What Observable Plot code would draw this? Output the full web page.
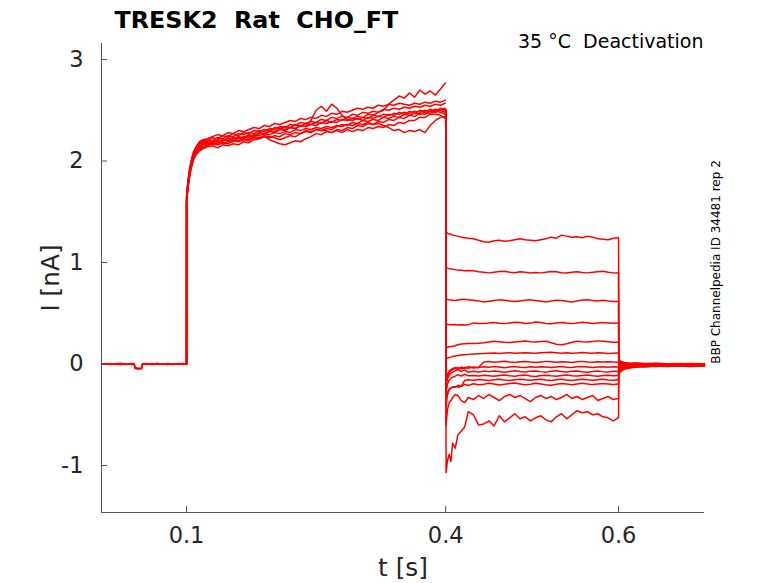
<!DOCTYPE html>
<html><head><meta charset="utf-8">
<script src="https://cdn.jsdelivr.net/npm/d3@7"></script>
<script src="https://cdn.jsdelivr.net/npm/@observablehq/plot@0.6"></script>
<style>body{margin:0;background:#fff;} svg text{white-space:pre;}</style>
</head><body><div id="chart"></div><script>
// ---- texts ----
const titleText = "TRESK2  Rat  CHO_FT";
const condText = "35 °C  Deactivation";
const idText = "BBP Channelpedia ID 34481 rep 2";
const xLabel = "t [s]";
const yLabel = "I [nA]";
// ---- axes ----
const xDomain = [0.0016, 0.6995];
const yDomain = [-1.463, 3.158];
const xTicks = [0.1, 0.4, 0.6];
const yTicks = [-1, 0, 1, 2, 3];

// ---- holding baseline (0 - 0.1 s) ----
const tBase = [0.0016, 0.006, 0.012, 0.018, 0.024, 0.030, 0.036, 0.0395, 0.0405, 0.044, 0.048, 0.049, 0.054, 0.060, 0.066, 0.072, 0.078, 0.084, 0.090, 0.096, 0.1];
const base1 = [0.005, -0.003, 0.004, -0.002, 0.003, -0.004, 0.002, 0.000, -0.045, -0.05, -0.046, 0.002, -0.003, 0.004, -0.002, 0.003, -0.004, 0.003, -0.002, 0.004, 0.0];
const base2 = [-0.006, 0.002, -0.005, 0.004, -0.004, 0.003, -0.006, -0.003, -0.04, -0.047, -0.042, -0.004, 0.003, -0.005, 0.004, -0.003, 0.002, -0.006, 0.003, -0.004, 0.0];
const base3 = [0.002, 0.006, -0.002, 0.003, 0.007, -0.001, 0.005, 0.002, -0.035, -0.042, -0.038, 0.003, 0.006, 0.0, 0.006, -0.001, 0.005, 0.001, 0.006, 0.002, 0.0];

// ---- activation step (0.1 - 0.4 s) ----
const tA = [0.1, 0.1001, 0.1006, 0.1013, 0.1022, 0.1035, 0.1055, 0.108, 0.111, 0.115, 0.119,
  0.124, 0.130, 0.136, 0.142, 0.148, 0.154, 0.160, 0.166, 0.172, 0.178, 0.184, 0.190, 0.196, 0.202, 0.208, 0.214,
  0.220, 0.226, 0.232, 0.238, 0.244, 0.250, 0.256, 0.262, 0.268, 0.274, 0.280, 0.286, 0.292, 0.298, 0.304, 0.310,
  0.316, 0.322, 0.328, 0.334, 0.340, 0.346, 0.352, 0.358, 0.364, 0.370, 0.376, 0.382, 0.388, 0.394, 0.3995];
const A1 = [0, 1.64, 1.70, 1.75, 1.82, 1.90, 1.99, 2.07, 2.12, 2.17, 2.19,
  2.20, 2.23, 2.22, 2.25, 2.24, 2.27, 2.25, 2.28, 2.27, 2.30, 2.29, 2.31, 2.30, 2.33, 2.32, 2.34,
  2.33, 2.36, 2.34, 2.37, 2.36, 2.38, 2.37, 2.40, 2.38, 2.41, 2.40, 2.43, 2.42, 2.44, 2.43, 2.46,
  2.45, 2.48, 2.50, 2.56, 2.60, 2.64, 2.62, 2.67, 2.63, 2.70, 2.66, 2.69, 2.65, 2.71, 2.77];
const A2 = [0, 1.60, 1.66, 1.71, 1.78, 1.86, 1.95, 2.03, 2.08, 2.12, 2.14,
  2.16, 2.18, 2.17, 2.20, 2.21, 2.19, 2.23, 2.22, 2.25, 2.24, 2.27, 2.26, 2.29, 2.28, 2.31, 2.30,
  2.33, 2.32, 2.35, 2.34, 2.40, 2.50, 2.54, 2.49, 2.56, 2.52, 2.45, 2.41, 2.40, 2.42, 2.40, 2.43,
  2.42, 2.44, 2.43, 2.46, 2.45, 2.48, 2.46, 2.49, 2.47, 2.50, 2.48, 2.51, 2.49, 2.52, 2.50];
const A3 = [0, 1.62, 1.68, 1.73, 1.80, 1.88, 1.97, 2.05, 2.10, 2.14, 2.17,
  2.17, 2.20, 2.19, 2.21, 2.20, 2.23, 2.22, 2.24, 2.23, 2.26, 2.25, 2.27, 2.26, 2.28, 2.27, 2.29,
  2.28, 2.31, 2.30, 2.32, 2.31, 2.33, 2.32, 2.34, 2.33, 2.35, 2.34, 2.36, 2.35, 2.37, 2.36, 2.38,
  2.36, 2.37, 2.35, 2.33, 2.30, 2.31, 2.28, 2.30, 2.29, 2.31, 2.28, 2.35, 2.40, 2.43, 2.44];
const A4 = [0, 1.58, 1.64, 1.69, 1.76, 1.84, 1.93, 2.01, 2.06, 2.10, 2.12,
  2.14, 2.15, 2.13, 2.16, 2.15, 2.17, 2.16, 2.19, 2.18, 2.21, 2.22, 2.24, 2.21, 2.19, 2.17, 2.16,
  2.18, 2.20, 2.19, 2.22, 2.24, 2.27, 2.26, 2.29, 2.28, 2.31, 2.30, 2.33, 2.32, 2.35, 2.34, 2.37,
  2.36, 2.39, 2.38, 2.41, 2.40, 2.43, 2.42, 2.45, 2.44, 2.47, 2.46, 2.49, 2.48, 2.50, 2.48];
const A5 = [0, 1.66, 1.72, 1.77, 1.84, 1.92, 2.01, 2.09, 2.14, 2.19, 2.21,
  2.22, 2.24, 2.26, 2.25, 2.28, 2.27, 2.30, 2.29, 2.31, 2.33, 2.32, 2.35, 2.34, 2.37, 2.36, 2.38,
  2.40, 2.39, 2.42, 2.41, 2.43, 2.42, 2.45, 2.44, 2.47, 2.46, 2.49, 2.48, 2.50, 2.52, 2.51, 2.53,
  2.52, 2.55, 2.54, 2.56, 2.55, 2.57, 2.56, 2.55, 2.57, 2.56, 2.58, 2.57, 2.59, 2.58, 2.60];
const A6 = [0, 1.63, 1.69, 1.74, 1.81, 1.89, 1.98, 2.06, 2.11, 2.15, 2.18,
  2.19, 2.18, 2.21, 2.20, 2.23, 2.22, 2.24, 2.23, 2.26, 2.25, 2.28, 2.27, 2.30, 2.29, 2.32, 2.31,
  2.33, 2.32, 2.35, 2.34, 2.36, 2.35, 2.38, 2.37, 2.39, 2.38, 2.41, 2.40, 2.42, 2.41, 2.43, 2.42,
  2.45, 2.44, 2.46, 2.45, 2.47, 2.46, 2.48, 2.47, 2.49, 2.48, 2.50, 2.49, 2.51, 2.50, 2.52];
const A7 = [0, 1.59, 1.65, 1.70, 1.77, 1.85, 1.94, 2.02, 2.07, 2.11, 2.13,
  2.15, 2.17, 2.16, 2.18, 2.17, 2.20, 2.19, 2.21, 2.20, 2.23, 2.22, 2.24, 2.23, 2.25, 2.24, 2.27,
  2.26, 2.28, 2.27, 2.30, 2.29, 2.31, 2.30, 2.30, 2.28, 2.30, 2.28, 2.31, 2.29, 2.31, 2.30, 2.33,
  2.32, 2.34, 2.33, 2.36, 2.35, 2.38, 2.37, 2.40, 2.40, 2.43, 2.43, 2.46, 2.46, 2.45, 2.42];
const A8 = [0, 1.65, 1.71, 1.76, 1.83, 1.91, 2.00, 2.08, 2.13, 2.18, 2.20,
  2.21, 2.20, 2.23, 2.22, 2.25, 2.24, 2.27, 2.26, 2.28, 2.27, 2.30, 2.29, 2.32, 2.31, 2.34, 2.33,
  2.36, 2.35, 2.38, 2.37, 2.39, 2.38, 2.41, 2.40, 2.43, 2.42, 2.44, 2.43, 2.46, 2.45, 2.48, 2.47,
  2.49, 2.48, 2.51, 2.50, 2.52, 2.51, 2.53, 2.52, 2.54, 2.53, 2.55, 2.54, 2.56, 2.55, 2.57];
const A9 = [0, 1.61, 1.67, 1.72, 1.79, 1.87, 1.96, 2.04, 2.09, 2.13, 2.16,
  2.18, 2.16, 2.18, 2.17, 2.19, 2.21, 2.20, 2.22, 2.21, 2.24, 2.23, 2.25, 2.24, 2.23, 2.21, 2.23,
  2.25, 2.24, 2.27, 2.29, 2.28, 2.31, 2.30, 2.32, 2.31, 2.34, 2.36, 2.35, 2.38, 2.37, 2.40, 2.39,
  2.41, 2.40, 2.43, 2.42, 2.44, 2.43, 2.46, 2.45, 2.47, 2.46, 2.48, 2.47, 2.49, 2.48, 2.46];

// ---- deactivation test steps (0.4 - 0.6 s) ----
const tB = [0.4, 0.4004, 0.402, 0.404, 0.406, 0.408, 0.411, 0.414, 0.418, 0.422, 0.426,
  0.432, 0.438, 0.444, 0.450, 0.456, 0.462, 0.468, 0.474, 0.480, 0.486, 0.492, 0.498, 0.504, 0.510,
  0.516, 0.522, 0.528, 0.534, 0.540, 0.546, 0.552, 0.558, 0.564, 0.570, 0.576, 0.582, 0.588, 0.594, 0.5995];
const B1 = [2.5, 1.30, 1.29, 1.28, 1.28, 1.27, 1.265, 1.26, 1.25, 1.245, 1.24, 1.235, 1.22, 1.205, 1.20, 1.215, 1.22, 1.21, 1.215, 1.225, 1.235, 1.225, 1.22, 1.215, 1.225, 1.235, 1.25, 1.24, 1.27, 1.26, 1.25, 1.255, 1.245, 1.26, 1.25, 1.235, 1.23, 1.225, 1.24, 1.245];
const B2 = [2.5, 0.95, 0.945, 0.94, 0.935, 0.935, 0.93, 0.925, 0.925, 0.92, 0.922, 0.918, 0.91, 0.905, 0.898, 0.905, 0.912, 0.915, 0.905, 0.90, 0.908, 0.903, 0.897, 0.902, 0.898, 0.905, 0.912, 0.908, 0.90, 0.896, 0.905, 0.91, 0.902, 0.898, 0.903, 0.91, 0.915, 0.905, 0.898, 0.897];
const B3 = [2.5, 0.64, 0.637, 0.632, 0.63, 0.628, 0.626, 0.63, 0.635, 0.638, 0.632, 0.628, 0.622, 0.612, 0.618, 0.625, 0.632, 0.628, 0.62, 0.615, 0.622, 0.628, 0.632, 0.625, 0.618, 0.612, 0.62, 0.628, 0.625, 0.618, 0.612, 0.62, 0.63, 0.633, 0.625, 0.622, 0.628, 0.62, 0.615, 0.617];
const B4 = [2.5, 0.39, 0.392, 0.388, 0.39, 0.387, 0.39, 0.385, 0.388, 0.384, 0.386, 0.405, 0.40, 0.398, 0.403, 0.41, 0.402, 0.398, 0.405, 0.412, 0.408, 0.40, 0.403, 0.413, 0.408, 0.40, 0.396, 0.405, 0.41, 0.403, 0.398, 0.405, 0.412, 0.406, 0.40, 0.404, 0.41, 0.405, 0.401, 0.405];
const B5 = [2.5, 0.16, 0.165, 0.17, 0.172, 0.175, 0.18, 0.19, 0.198, 0.2, 0.202, 0.203, 0.205, 0.21, 0.218, 0.225, 0.22, 0.215, 0.212, 0.218, 0.222, 0.226, 0.22, 0.216, 0.222, 0.225, 0.21, 0.195, 0.19, 0.2, 0.215, 0.225, 0.22, 0.218, 0.223, 0.228, 0.225, 0.22, 0.215, 0.215];
const B6 = [2.5, 0.05, 0.058, 0.064, 0.068, 0.073, 0.078, 0.083, 0.088, 0.092, 0.095, 0.098, 0.10, 0.103, 0.106, 0.108, 0.104, 0.109, 0.111, 0.106, 0.109, 0.112, 0.108, 0.105, 0.11, 0.114, 0.116, 0.111, 0.107, 0.11, 0.106, 0.109, 0.113, 0.109, 0.105, 0.11, 0.108, 0.104, 0.107, 0.108];
const B7 = [2.5, -0.15, -0.10, -0.07, -0.055, -0.045, -0.035, -0.05, -0.03, -0.045, -0.025, -0.04, -0.035, 0.02, 0.025, 0.018, 0.022, 0.027, 0.02, 0.016, 0.022, 0.025, 0.019, 0.015, 0.021, 0.026, 0.022, 0.018, 0.023, 0.02, 0.016, 0.022, 0.026, 0.02, 0.017, 0.022, 0.019, 0.023, 0.02, 0.018];
const B8 = [2.5, -0.18, -0.12, -0.085, -0.065, -0.055, -0.045, -0.035, -0.05, -0.032, -0.042, -0.03, -0.035, -0.028, -0.033, -0.025, -0.03, -0.036, -0.029, -0.024, -0.031, -0.035, -0.028, -0.032, -0.026, -0.03, -0.035, -0.029, -0.025, -0.031, -0.034, -0.028, -0.024, -0.03, -0.035, -0.029, -0.026, -0.031, -0.028, -0.03];
const B9 = [2.5, -0.22, -0.15, -0.11, -0.09, -0.08, -0.068, -0.055, -0.072, -0.058, -0.08, -0.072, -0.078, -0.07, -0.075, -0.068, -0.074, -0.08, -0.073, -0.067, -0.074, -0.079, -0.072, -0.068, -0.075, -0.08, -0.071, -0.066, -0.073, -0.078, -0.072, -0.069, -0.076, -0.08, -0.073, -0.07, -0.075, -0.078, -0.072, -0.074];
const B10 = [2.5, -0.28, -0.20, -0.16, -0.14, -0.13, -0.12, -0.105, -0.118, -0.102, -0.115, -0.112, -0.118, -0.11, -0.116, -0.121, -0.113, -0.108, -0.115, -0.12, -0.112, -0.109, -0.117, -0.122, -0.114, -0.11, -0.116, -0.12, -0.113, -0.109, -0.115, -0.119, -0.112, -0.108, -0.115, -0.12, -0.114, -0.11, -0.116, -0.114];
const B11 = [2.5, -0.35, -0.28, -0.25, -0.235, -0.23, -0.22, -0.228, -0.22, -0.162, -0.155, -0.16, -0.152, -0.158, -0.163, -0.155, -0.15, -0.157, -0.162, -0.154, -0.149, -0.156, -0.161, -0.155, -0.15, -0.158, -0.163, -0.156, -0.151, -0.157, -0.162, -0.155, -0.15, -0.156, -0.16, -0.154, -0.151, -0.157, -0.16, -0.156];
const B12 = [2.5, -0.42, -0.30, -0.25, -0.24, -0.225, -0.23, -0.21, -0.22, -0.20, -0.212, -0.195, -0.205, -0.2, -0.19, -0.198, -0.207, -0.2, -0.193, -0.188, -0.197, -0.205, -0.199, -0.19, -0.196, -0.204, -0.21, -0.2, -0.193, -0.198, -0.205, -0.197, -0.19, -0.196, -0.203, -0.198, -0.192, -0.197, -0.202, -0.196];
const B13 = [2.5, -0.60, -0.45, -0.38, -0.36, -0.33, -0.30, -0.31, -0.36, -0.38, -0.33, -0.35, -0.31, -0.34, -0.30, -0.33, -0.36, -0.32, -0.30, -0.33, -0.31, -0.34, -0.37, -0.33, -0.31, -0.34, -0.32, -0.35, -0.33, -0.30, -0.34, -0.32, -0.35, -0.33, -0.31, -0.36, -0.34, -0.32, -0.35, -0.34];
const B14 = [2.5, -1.07, -0.95, -0.89, -0.96, -0.78, -0.83, -0.70, -0.66, -0.62, -0.47, -0.50, -0.60, -0.59, -0.56, -0.61, -0.51, -0.57, -0.53, -0.49, -0.54, -0.52, -0.56, -0.53, -0.51, -0.55, -0.57, -0.52, -0.49, -0.54, -0.50, -0.46, -0.48, -0.47, -0.50, -0.49, -0.52, -0.53, -0.56, -0.53];

// ---- tails after return to holding (0.6 - 0.7 s) ----
const tC = [0.6, 0.6004, 0.603, 0.607, 0.613, 0.621, 0.631, 0.643, 0.656, 0.669, 0.683, 0.6995];
const C1 = [1.245, -0.10, -0.07, -0.05, -0.04, -0.03, -0.025, -0.02, -0.025, -0.018, -0.022, -0.02];
const C2 = [0.897, -0.08, -0.06, -0.045, -0.035, -0.028, -0.02, -0.025, -0.018, -0.022, -0.015, -0.02];
const C3 = [0.617, -0.065, -0.05, -0.04, -0.03, -0.025, -0.03, -0.02, -0.015, -0.02, -0.025, -0.018];
const C4 = [0.405, -0.05, -0.04, -0.032, -0.025, -0.02, -0.015, -0.022, -0.018, -0.012, -0.018, -0.015];
const C5 = [0.215, -0.04, -0.03, -0.025, -0.02, -0.015, -0.02, -0.012, -0.018, -0.01, -0.015, -0.012];
const C6 = [0.108, -0.03, -0.022, -0.018, -0.012, -0.015, -0.008, -0.014, -0.01, -0.016, -0.01, -0.012];
const C7 = [0.018, -0.02, -0.015, -0.012, -0.008, -0.012, -0.005, -0.01, -0.015, -0.008, -0.012, -0.01];
const C8 = [-0.03, -0.01, -0.012, -0.008, -0.012, -0.006, -0.01, -0.004, -0.009, -0.013, -0.007, -0.01];
const C9 = [-0.074, 0.0, -0.005, -0.01, -0.004, -0.009, -0.012, -0.006, -0.002, -0.008, -0.012, -0.006];
const C10 = [-0.114, 0.01, 0.002, -0.004, 0.0, -0.006, -0.002, -0.008, -0.004, 0.0, -0.006, -0.004];
const C11 = [-0.156, 0.02, 0.01, 0.004, -0.002, 0.002, -0.004, 0.0, -0.005, -0.002, 0.002, -0.003];
const C12 = [-0.196, 0.02, 0.012, 0.006, 0.002, -0.002, 0.003, -0.003, 0.001, -0.004, 0.0, -0.002];
const C13 = [-0.34, 0.03, 0.018, 0.01, 0.004, 0.007, 0.001, 0.005, -0.001, 0.003, 0.006, 0.002];
const C14 = [-0.53, 0.04, 0.025, 0.015, 0.008, 0.01, 0.004, 0.008, 0.002, 0.006, 0.0, 0.003];

// ---- build table ----
const rows = [];
function addTrace(id, ts, vs) {
  ts.forEach((t, i) => { if (vs[i] !== undefined) rows.push({id, t, v: vs[i]}); });
}
[base1, base2, base3].forEach((v, i) => addTrace("base" + i, tBase, v));
[A1, A2, A3, A4, A5, A6, A7, A8, A9].forEach((v, i) => addTrace("A" + i, tA, v));
[B1, B2, B3, B4, B5, B6, B7, B8, B9, B10, B11, B12, B13, B14].forEach((v, i) => addTrace("B" + i, tB, v));
[C1, C2, C3, C4, C5, C6, C7, C8, C9, C10, C11, C12, C13, C14].forEach((v, i) => addTrace("C" + i, tC, v));

const axisColor = "#555555";
const textColor = "#262626";
const fmt = d => String(d);

const chart = Plot.plot({
  width: 778, height: 583,
  marginLeft: 101, marginRight: 74, marginTop: 43, marginBottom: 71,
  style: {fontFamily: "DejaVu Sans", fontSize: "22.5px", background: "#fff", color: textColor},
  x: {domain: xDomain},
  y: {domain: yDomain},
  marks: [
    Plot.line(rows, {x: "t", y: "v", z: "id", stroke: "#ff0000", strokeWidth: 1.5}),
    Plot.ruleX([xDomain[0]], {stroke: axisColor, strokeWidth: 1}),
    Plot.ruleY([yDomain[0]], {stroke: axisColor, strokeWidth: 1}),
    Plot.axisX(xTicks, {tickSize: -6, stroke: axisColor, tickFormat: () => "", label: null}),
    Plot.axisX(xTicks, {tickSize: 0, tickPadding: 15, fontSize: 22.5, fill: textColor, tickFormat: fmt, label: null}),
    Plot.axisY(yTicks, {tickSize: -6, stroke: axisColor, tickFormat: () => "", label: null}),
    Plot.axisY(yTicks, {tickSize: 0, tickPadding: 18, fontSize: 22.5, fill: textColor, tickFormat: fmt, label: null}),
    Plot.text([xLabel], {text: d => d, frameAnchor: "bottom", dy: 63, textAnchor: "middle", lineAnchor: "bottom", fontSize: 24.75, fill: textColor}),
    Plot.text([yLabel], {text: d => d, frameAnchor: "left", dx: -43, rotate: -90, textAnchor: "middle", lineAnchor: "bottom", fontSize: 24.75, fill: textColor}),
    Plot.text([titleText], {text: d => d, frameAnchor: "top-left", dx: 13, dy: -16, textAnchor: "start", lineAnchor: "bottom", fontSize: 23.8, fontWeight: "bold", fill: "#000"}),
    Plot.text([condText], {text: d => d, frameAnchor: "top-right", dx: -1, dy: 4, textAnchor: "end", lineAnchor: "bottom", fontSize: 19, fill: "#000"}),
    Plot.text([idText], {text: d => d, frameAnchor: "right", dx: 15, dy: -16, rotate: -90, textAnchor: "middle", lineAnchor: "bottom", fontSize: 12, fill: "#000"})
  ]
});
document.getElementById("chart").appendChild(chart);
</script></body></html>
